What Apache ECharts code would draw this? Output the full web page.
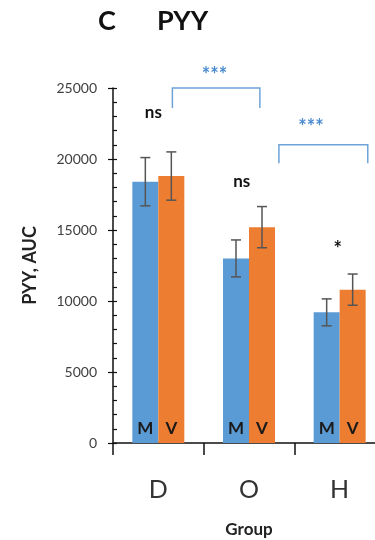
<!DOCTYPE html>
<html>
<head>
<meta charset="utf-8">
<script src="https://cdn.jsdelivr.net/npm/echarts@6/dist/echarts.min.js"></script>
<style>
  html, body { margin: 0; padding: 0; background: #fff; }
  #chart { width: 375px; height: 540px; }
</style>
</head>
<body>
<div id="chart"></div>
<script>
  // values
  const categories = ['D', 'O', 'H']
  const mValues = [18400, 13000, 9200]
  const vValues = [18800, 15200, 10800]
  const mErr = [1700, 1300, 950]
  const vErr = [1700, 1450, 1100]
  const yMin = 0
  const yMax = 25000
  const yStep = 5000

  // brackets: [fromCat, fromFrac, toCat, toFrac, topValue, legValue]
  const brackets = [
    [0, 0.155, 1, 0.12, 25000, 23600],
    [1, 0.33, 2, 0.31, 21000, 19700]
  ]
  // significance marks: [cat, frac, value]
  const markTexts = ['ns', 'ns', '*', '***', '***']
  const markPos = [[0, -0.055, 23240], [1, -0.08, 18380], [2, -0.02, 13600], [0, 0.62, 25900], [1, 0.685, 22200]]
  const markColors = ['#111', '#111', '#111', '#4a8bd0', '#4a8bd0']

  const BLUE = '#5B9BD5'
  const ORANGE = '#ED7D31'
  const BAR_W = 26
  const FONT = 'Lato, "Open Sans", sans-serif'

  const chart = echarts.init(document.getElementById('chart'))

  function errData(vals, errs) {
    return vals.map((v, i) => [i, v - errs[i], v + errs[i]])
  }

  function errRender(side) {
    return function (params, api) {
      const c = api.value(0)
      const lo = api.coord([c, api.value(1)])
      const hi = api.coord([c, api.value(2)])
      const x = lo[0] + side * BAR_W / 2
      const cap = 5
      const st = { stroke: '#555', lineWidth: 1.5 }
      return {
        type: 'group',
        children: [
          { type: 'line', shape: { x1: x, y1: lo[1], x2: x, y2: hi[1] }, style: st },
          { type: 'line', shape: { x1: x - cap, y1: lo[1], x2: x + cap, y2: lo[1] }, style: st },
          { type: 'line', shape: { x1: x - cap, y1: hi[1], x2: x + cap, y2: hi[1] }, style: st }
        ]
      }
    }
  }

  function barLabel(text) {
    return {
      show: true,
      position: 'insideBottom',
      distance: 6,
      formatter: text,
      color: '#1a1a1a',
      fontFamily: FONT,
      fontWeight: 'bold',
      fontSize: 17
    }
  }

  const option = {
    animation: false,
    grid: { left: 113, top: 88, width: 272, bottom: 97, outerBoundsMode: 'none', containLabel: false },
    graphic: [
      { type: 'text', left: 98, top: 8, style: { text: 'C', font: 'bold 27px ' + FONT, fill: '#111' } },
      { type: 'text', left: 157, top: 8, style: { text: 'PYY', font: 'bold 27px ' + FONT, fill: '#111' } }
    ],
    xAxis: {
      type: 'category',
      data: categories,
      axisLine: { lineStyle: { color: '#111', width: 1.5 } },
      axisTick: { show: true, length: 12, lineStyle: { color: '#111', width: 1.5 } },
      axisLabel: { color: '#333', fontSize: 25, fontFamily: FONT, margin: 34 },
      name: 'Group',
      nameLocation: 'middle',
      nameGap: 78,
      nameTextStyle: { color: '#222', fontSize: 17, fontWeight: 'bold', fontFamily: FONT }
    },
    yAxis: [
      {
        type: 'value',
        min: yMin,
        max: yMax,
        interval: yStep,
        splitLine: { show: false },
        axisLine: { show: true, lineStyle: { color: '#111', width: 1.5 } },
        axisTick: { show: true, inside: true, length: 4, lineStyle: { color: '#111', width: 1.2 } },
        minorTick: { show: true, splitNumber: 5, length: 4, lineStyle: { color: '#111', width: 1.2 } },
        axisLabel: { color: '#404040', fontSize: 14, fontFamily: FONT, margin: 16, formatter: v => String(v) },
        name: 'PYY, AUC',
        nameLocation: 'middle',
        nameGap: 74,
        nameTextStyle: { color: '#222', fontSize: 18, fontWeight: 'bold', fontFamily: FONT }
      },
      {
        // outer half of the major ticks
        type: 'value',
        min: yMin,
        max: yMax,
        interval: yStep,
        position: 'left',
        splitLine: { show: false },
        axisLine: { show: false },
        axisTick: { show: true, length: 5, lineStyle: { color: '#111', width: 1.2 } },
        axisLabel: { show: false }
      }
    ],
    series: [
      {
        type: 'bar',
        data: mValues,
        barWidth: BAR_W,
        barGap: '0%',
        itemStyle: { color: BLUE },
        label: barLabel('M')
      },
      {
        type: 'bar',
        data: vValues,
        barWidth: BAR_W,
        barGap: '0%',
        itemStyle: { color: ORANGE },
        label: barLabel('V')
      },
      {
        type: 'custom',
        renderItem: errRender(-1),
        data: errData(mValues, mErr),
        z: 5
      },
      {
        type: 'custom',
        renderItem: errRender(1),
        data: errData(vValues, vErr),
        z: 5
      },
      {
        type: 'custom',
        clip: false,
        z: 6,
        data: brackets,
        renderItem(params, api) {
          const band = api.size([1, 0])[0]
          const a = api.coord([api.value(0), api.value(4)])
          const b = api.coord([api.value(2), api.value(4)])
          const leg = api.coord([api.value(0), api.value(5)])
          const x1 = a[0] + api.value(1) * band
          const x2 = b[0] + api.value(3) * band
          return {
            type: 'polyline',
            shape: { points: [[x1, leg[1]], [x1, a[1]], [x2, a[1]], [x2, leg[1]]] },
            style: { stroke: '#6fa3d8', lineWidth: 1.5, fill: null }
          }
        }
      },
      {
        type: 'custom',
        clip: false,
        z: 6,
        data: markPos,
        renderItem(params, api) {
          const band = api.size([1, 0])[0]
          const p = api.coord([api.value(0), api.value(2)])
          const i = params.dataIndex
          const stars = markTexts[i].charAt(0) === '*'
          return {
            type: 'text',
            x: p[0] + api.value(1) * band,
            y: p[1],
            style: {
              text: markTexts[i],
              fill: markColors[i],
              font: 'bold ' + (stars ? 20 : 17) + 'px ' + FONT,
              align: 'center',
              verticalAlign: 'middle'
            }
          }
        }
      }
    ]
  }

  chart.setOption(option)
</script>
</body>
</html>
